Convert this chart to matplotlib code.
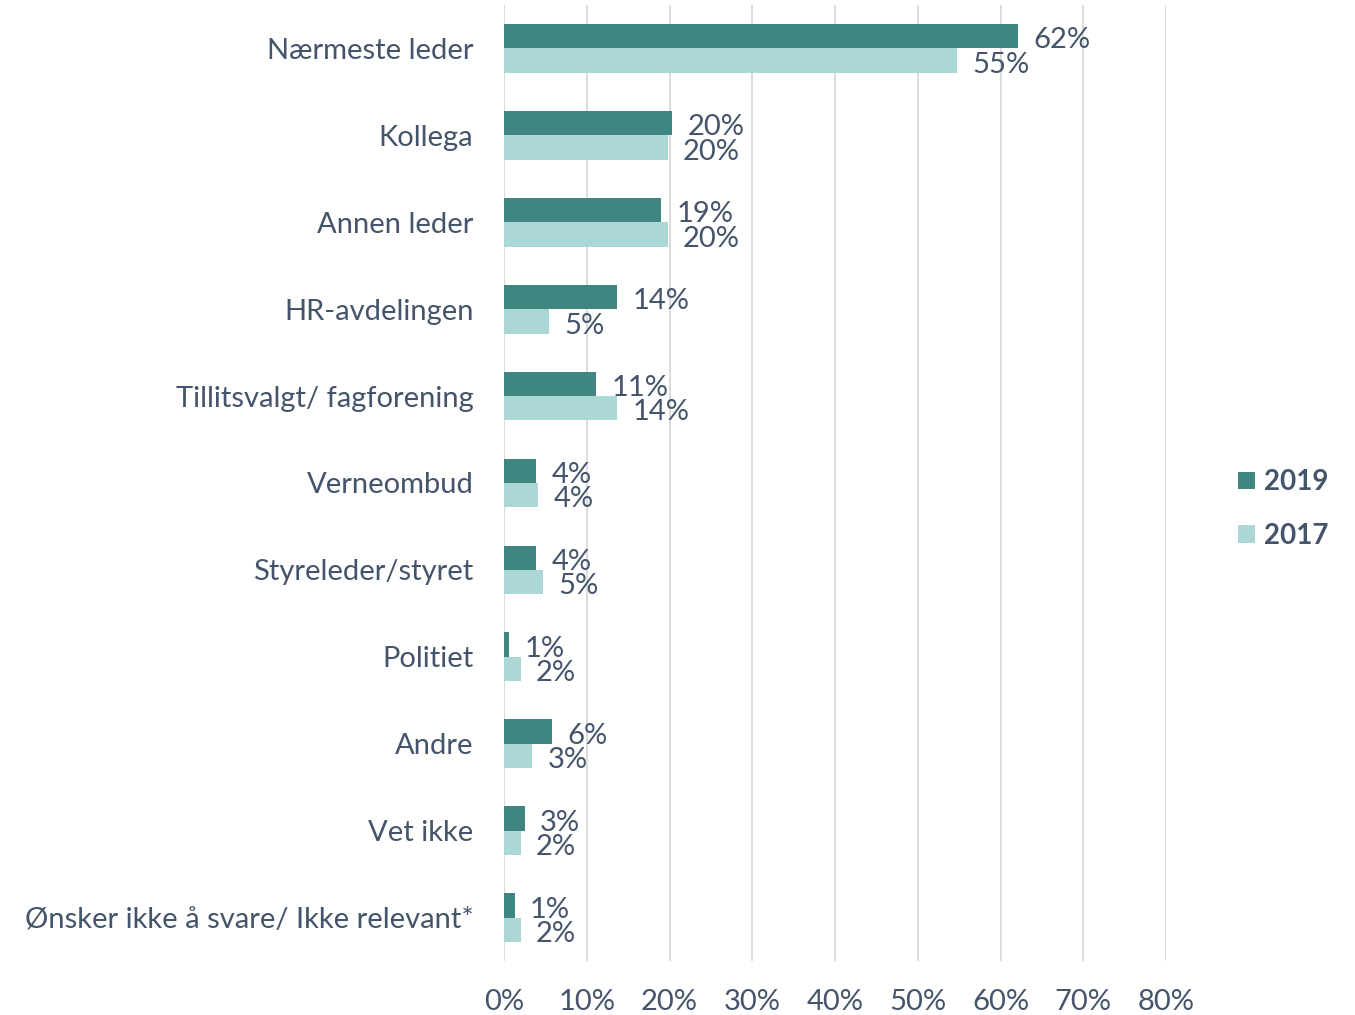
import numpy as np
import matplotlib
matplotlib.use('Agg')
import matplotlib.pyplot as plt

categories = ['Nærmeste leder', 'Kollega', 'Annen leder', 'HR-avdelingen',
              'Tillitsvalgt/ fagforening', 'Verneombud', 'Styreleder/styret',
              'Politiet', 'Andre', 'Vet ikke', 'Ønsker ikke å svare/ Ikke relevant*']
vals_2019 = [62.1, 20.3, 19.0, 13.7, 11.1, 3.9, 3.9, 0.6, 5.8, 2.5, 1.3]
vals_2017 = [54.7, 19.8, 19.8, 5.4, 13.7, 4.1, 4.7, 2.0, 3.4, 2.0, 2.0]
labels_2019 = ['62%', '20%', '19%', '14%', '11%', '4%', '4%', '1%', '6%', '3%', '1%']
labels_2017 = ['55%', '20%', '20%', '5%', '14%', '4%', '5%', '2%', '3%', '2%', '2%']

c2019 = '#3F8681'
c2017 = '#ABD8D6'
txt = '#44546A'

plt.rcParams['font.family'] = ['Lato', 'DejaVu Sans']

fig = plt.figure(figsize=(13.55, 10.15), dpi=100)
ax = fig.add_axes([504 / 1355, 1 - 961 / 1015, (1166 - 504) / 1355, 956 / 1015])

y = np.arange(len(categories))
h = 0.28
ax.barh(y - h / 2, vals_2019, height=h, color=c2019, label='2019', zorder=3)
ax.barh(y + h / 2, vals_2017, height=h, color=c2017, label='2017', zorder=3)

for i in range(len(categories)):
    ax.annotate(labels_2019[i], (vals_2019[i], y[i] - h / 2), xytext=(11, -3),
                textcoords='offset points', va='center', ha='left',
                fontsize=21, color=txt)
    ax.annotate(labels_2017[i], (vals_2017[i], y[i] + h / 2), xytext=(11, -3),
                textcoords='offset points', va='center', ha='left',
                fontsize=21, color=txt)

ax.set_xlim(0, 80)
ax.set_ylim(len(categories) - 0.5, -0.5)
ax.set_xticks(np.arange(0, 81, 10))
ax.set_xticklabels([f'{v}%' for v in range(0, 81, 10)])
ax.set_yticks(y)
ax.set_yticklabels(categories)
ax.tick_params(axis='both', length=0, labelsize=21, labelcolor=txt)
ax.tick_params(axis='x', pad=20)
ax.tick_params(axis='y', pad=22)
ax.grid(axis='x', color='#D9D9D9', linewidth=1.3, zorder=0)
for s in ax.spines.values():
    s.set_visible(False)

leg = fig.legend(loc='center left', bbox_to_anchor=(1213 / 1355, 1 - 509 / 1015),
                 frameon=False, handlelength=0.6, handleheight=0.6,
                 handletextpad=0.35, labelspacing=1.0,
                 prop={'size': 20, 'weight': 'bold'})
for t in leg.get_texts():
    t.set_color(txt)

plt.savefig('out.png', dpi=100)
